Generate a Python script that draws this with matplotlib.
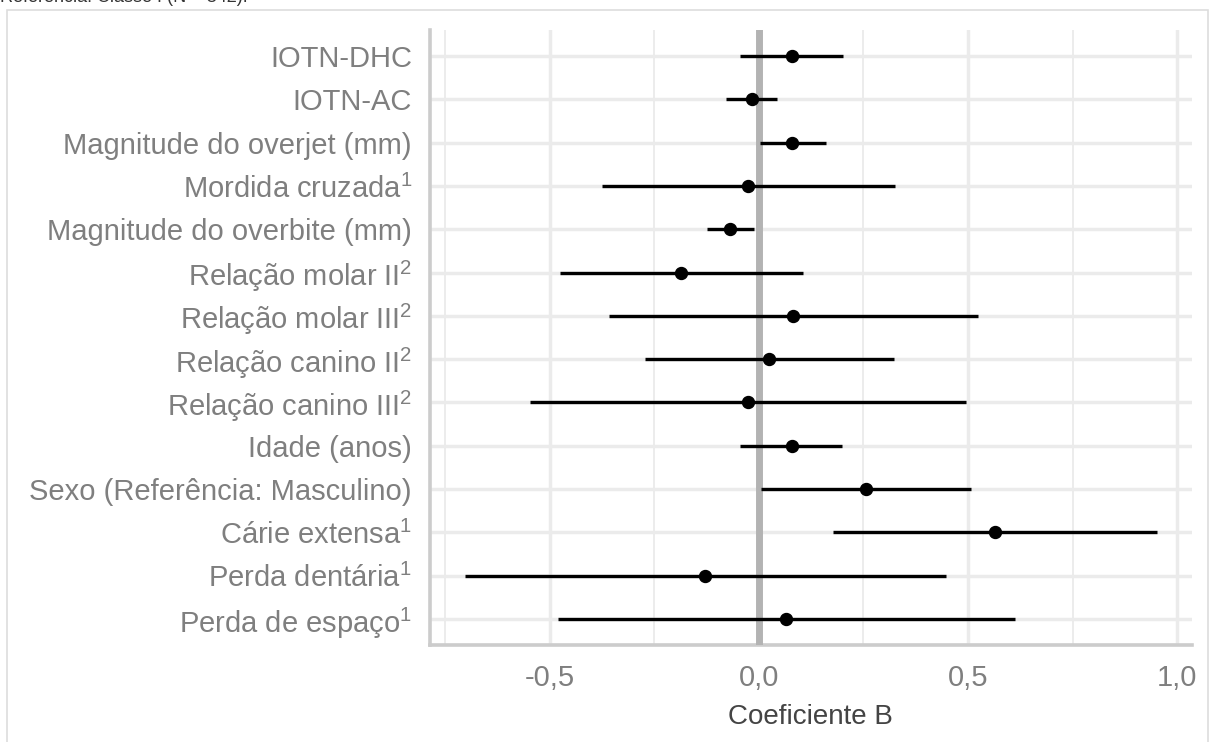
"""Forest plot of B coefficients with 95% CI."""
import numpy as np
import matplotlib.pyplot as plt
from matplotlib.patches import Rectangle

plt.rcParams["font.family"] = ["Liberation Sans", "DejaVu Sans"]
plt.rcParams["mathtext.fontset"] = "custom"
plt.rcParams["mathtext.rm"] = "Liberation Sans"
plt.rcParams["mathtext.it"] = "Liberation Sans"

# data, top to bottom
variables = [
	"IOTN-DHC",
	"IOTN-AC",
	"Magnitude do overjet (mm)",
	"Mordida cruzada$^{1}$",
	"Magnitude do overbite (mm)",
	"Relação molar II$^{2}$",
	"Relação molar III$^{2}$",
	"Relação canino II$^{2}$",
	"Relação canino III$^{2}$",
	"Idade (anos)",
	"Sexo (Referência: Masculino)",
	"Cárie extensa$^{1}$",
	"Perda dentária$^{1}$",
	"Perda de espaço$^{1}$",
]
coef = [0.078, -0.016, 0.080, -0.025, -0.068, -0.186, 0.082, 0.024, -0.027, 0.078, 0.256, 0.564, -0.128, 0.066]
ci_low = [-0.046, -0.078, 0.003, -0.374, -0.124, -0.475, -0.359, -0.272, -0.547, -0.044, 0.005, 0.177, -0.703, -0.481]
ci_high = [0.200, 0.044, 0.160, 0.326, -0.011, 0.106, 0.524, 0.324, 0.494, 0.199, 0.507, 0.951, 0.448, 0.613]
xticks = [-0.5, 0.0, 0.5, 1.0]
xtick_labels = ["-0,5", "0,0", "0,5", "1,0"]
minor_ticks = [-0.75, -0.25, 0.25, 0.75]
header = "Referência: Classe I (N = 342)."

label_color = "#7F7F7F"
grid_color = "#EBEBEB"

fig = plt.figure(figsize=(12.11, 7.42), dpi=100)
ax = fig.add_axes([0.3551, 0.1307, 0.6288, 0.8289])

n = len(variables)
ypos = np.arange(n)[::-1]

ax.hlines(ypos, ci_low, ci_high, color="black", lw=2.4, zorder=4)
ax.plot(coef, ypos, "o", color="black", markersize=8.6, zorder=5)
ax.axvline(0, color="#B3B3B3", lw=5, zorder=3)

# ggplot-like expansion
lo = min(ci_low)
hi = max(ci_high)
pad = 0.05 * (hi - lo)
ax.set_xlim(lo - pad, hi + pad)
ax.set_ylim(-0.6, n - 1 + 0.6)

ax.set_yticks(ypos)
ax.set_yticklabels(variables)
ax.set_xticks(xticks)
ax.set_xticklabels(xtick_labels)
ax.set_xticks(minor_ticks, minor=True)
ax.tick_params(axis="both", which="both", length=0, labelsize=21, labelcolor=label_color)
ax.tick_params(axis="y", pad=13)
ax.tick_params(axis="x", pad=14)

ax.grid(True, which="major", axis="both", color=grid_color, lw=2.5, zorder=0)
ax.grid(True, which="minor", axis="x", color=grid_color, lw=1.3, zorder=0)
ax.set_axisbelow(True)

for side in ["top", "right"]:
	ax.spines[side].set_visible(False)
for side in ["left", "bottom"]:
	ax.spines[side].set_color("#CCCCCC")
	ax.spines[side].set_linewidth(2.6)

ax.set_xlabel("Coeficiente B", fontsize=20, color="#444444", labelpad=8)

# outer frame and clipped header line from the source page
fig.patches.append(Rectangle((7 / 1211, -0.1), 1201 / 1211, 1.1 - 10 / 742,
	transform=fig.transFigure, fill=False, edgecolor="#DDDDDD", lw=1.2))
fig.text(0.0, 1 - 2 / 742, header, fontsize=13, color="#333333", va="baseline", ha="left")

fig.savefig("out.png", dpi=100)
